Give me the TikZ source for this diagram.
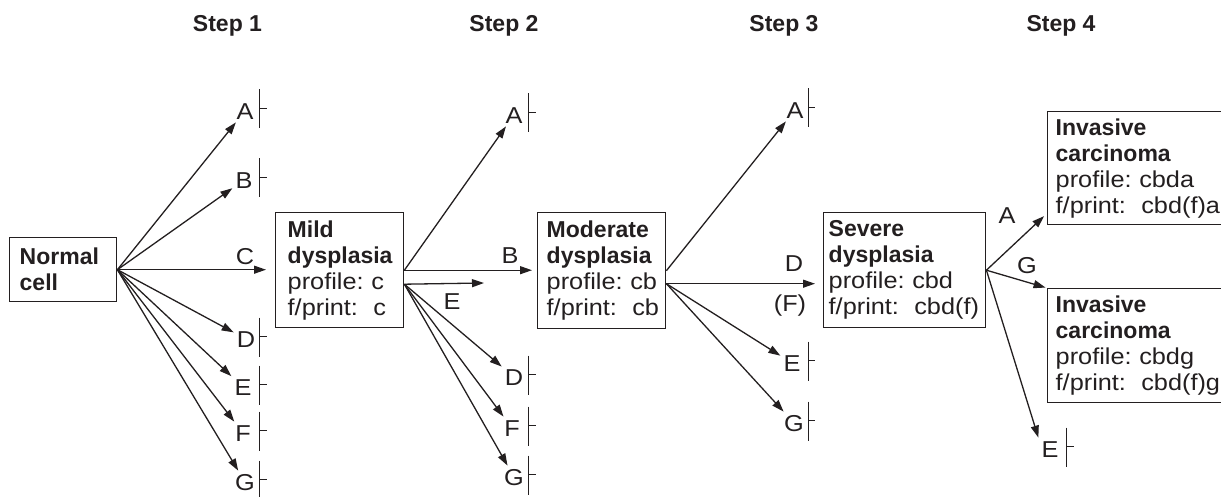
\documentclass[tikz,border=0pt]{standalone}
\usepackage{fontspec}
\setmainfont{Liberation Sans}[FakeStretch=1.1,BoldFeatures={FakeStretch=1.0}]
\usetikzlibrary{arrows.meta}
\definecolor{ink}{HTML}{231F20}
\newcommand{\termnode}[5]{%
  \node[lbl] (#1) at (#2,#3) {#4};
  \draw[barline] (#5,#3-21.5) -- (#5,#3+17.5) (#5,#3-2.5) -- (#5+7,#3-2.5);}
\begin{document}
\begin{tikzpicture}[x=1pt,y=-1pt,
  font=\fontsize{23}{26}\selectfont, color=ink,
  box/.style={draw, anchor=north west, align=left, inner ysep=2pt, line width=1.4pt},
  lbl/.style={inner sep=3pt, text height=16.4pt, text depth=0pt},
  hdr/.style={lbl, font=\fontsize{23}{26}\selectfont\bfseries},
  arr/.style={-{Triangle[length=12pt,width=8pt]}, line width=1.3pt},
  barline/.style={line width=1.3pt}]
\useasboundingbox (0,0) rectangle (1221,497);

% headers
\node[hdr] (h1) at (227.5,23) {Step 1};
\node[hdr] (h2) at (504,23) {Step 2};
\node[hdr] (h3) at (784,23) {Step 3};
\node[hdr] (h4) at (1061,23) {Step 4};

% boxes
\node[box, text width=87pt, inner xsep=10pt, minimum height=64pt] (normal) at (9,237)
  {\textbf{Normal}\\\textbf{cell}};
\node[box, text width=104pt, inner xsep=12pt, minimum height=115pt] (mild) at (275,212)
  {\textbf{Mild}\\\textbf{dysplasia}\\profile:~c\\f/print:~~c};
\node[box, text width=110pt, inner xsep=9pt, minimum height=116pt] (moderate) at (537,212)
  {\textbf{Moderate}\\\textbf{dysplasia}\\profile:~cb\\f/print:~~cb};
\node[box, text width=152pt, inner xsep=5pt, minimum height=115pt] (severe) at (823,212)
  {\textbf{Severe}\\\textbf{dysplasia}\\profile:~cbd\\f/print:~~cbd(f)};
\node[box, text width=190pt, inner xsep=8pt, minimum height=113pt] (inv1) at (1047,111)
  {\textbf{Invasive}\\\textbf{carcinoma}\\profile:~cbda\\f/print:~~cbd(f)a};
\node[box, text width=190pt, inner xsep=8pt, minimum height=114pt] (inv2) at (1047,288)
  {\textbf{Invasive}\\\textbf{carcinoma}\\profile:~cbdg\\f/print:~~cbd(f)g};

% terminal letters with bars
\termnode{s1A}{245}{111}{A}{259.5}
\termnode{s1B}{244}{180}{B}{259.5}
\termnode{s1D}{246}{339}{D}{259.5}
\termnode{s1E}{243}{387}{E}{259.5}
\termnode{s1F}{243}{433}{F}{259.5}
\termnode{s1G}{245}{482}{G}{259.5}

\termnode{s2A}{514}{115}{A}{528.7}
\termnode{s2D}{514}{377}{D}{528.7}
\termnode{s2F}{512}{428}{F}{528.7}
\termnode{s2G}{514}{477}{G}{528.7}

\termnode{s3A}{795}{110}{A}{808.3}
\termnode{s3E}{792}{363}{E}{808.3}
\termnode{s3G}{794}{423}{G}{808.3}

\termnode{s4E}{1050}{449}{E}{1066.5}

% arrow labels
\node[lbl] (lC) at (245,256) {C};
\node[lbl] (lB) at (510,255) {B};
\node[lbl] (lE2) at (452,301) {E};
\node[lbl] (lD) at (794,263) {D};
\node[lbl] (lF) at (790,303) {(F)};
\node[lbl] (lA4) at (1007,215) {A};
\node[lbl] (lG4) at (1027,265) {G};

% step 1 arrows
\draw[arr] (normal.east) -- (s1A);
\draw[arr] (normal.east) -- (s1B);
\draw[arr, shorten >=9pt] (normal.east) -- (normal.east -| mild.west);
\draw[arr] (normal.east) -- (s1D);
\draw[arr] (normal.east) -- (s1E);
\draw[arr] (normal.east) -- (s1F);
\draw[arr] (normal.east) -- (s1G);

% step 2 arrows
\coordinate (m2) at ([yshift=-14pt]mild.east);
\coordinate (e2end) at (484,283);
\draw[arr] (mild.east) -- (s2A);
\draw[arr, shorten >=5pt] (mild.east) -- (mild.east -| moderate.west);
\draw[arr] (m2) -- (e2end);
\draw[arr] (m2) -- (s2D);
\draw[arr] (m2) -- (s2F);
\draw[arr] (m2) -- (s2G);

% step 3 arrows
\coordinate (m3) at ([yshift=-13pt]moderate.east);
\draw[arr] (moderate.east) -- (s3A);
\draw[arr, shorten >=8pt] (m3) -- (m3 -| severe.west);
\draw[arr] (m3) -- (s3E);
\draw[arr] (m3) -- (s3G);

% step 4 arrows
\draw[arr, shorten >=4pt] (severe.east) -- ([yshift=12pt]inv1.south west);
\draw[arr, shorten >=1.5pt] (severe.east) -- (inv2.north west);
\draw[arr] (severe.east) -- (s4E.north west);
\end{tikzpicture}
\end{document}
